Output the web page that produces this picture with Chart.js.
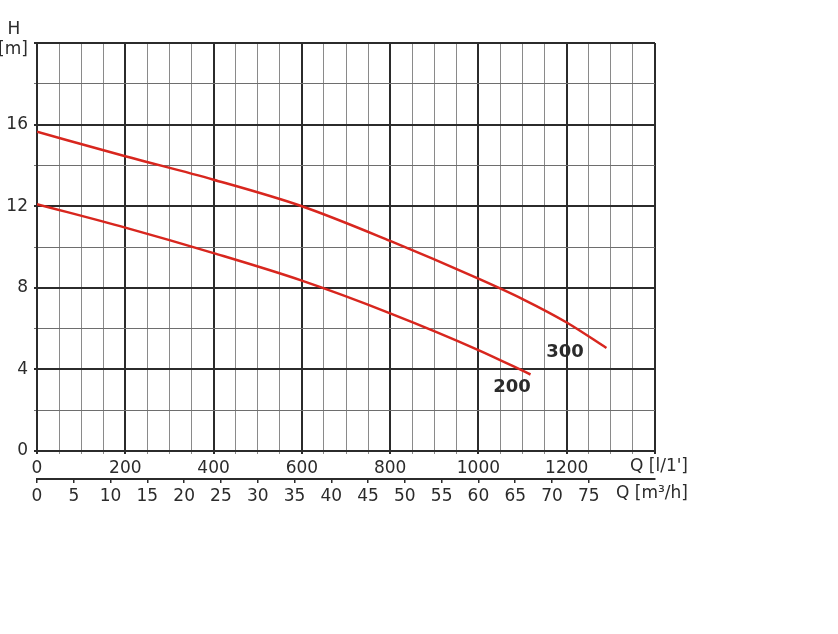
<!DOCTYPE html>
<html>
<head>
<meta charset="utf-8">
<script src="https://cdn.jsdelivr.net/npm/chart.js@4/dist/chart.umd.min.js"></script>
<style>
  body { margin: 0; background: #fff; }
  canvas { display: block; }
</style>
</head>
<body>
<canvas id="pumpChart" width="838" height="634"></canvas>
<script>
// pump curve data (Q in l/min, H in m)
const q300 = [0, 200, 400, 600, 800, 1000, 1100, 1200, 1290];
const h300 = [15.65, 14.45, 13.3, 12.0, 10.3, 8.45, 7.45, 6.3, 5.05];
const q200 = [0, 200, 400, 600, 800, 1000, 1118];
const h200 = [12.1, 10.95, 9.7, 8.35, 6.75, 4.95, 3.75];

const headTicks = [0, 4, 8, 12, 16];
const flowLpmTicks = [0, 200, 400, 600, 800, 1000, 1200];
const flowM3hTicks = [0, 5, 10, 15, 20, 25, 30, 35, 40, 45, 50, 55, 60, 65, 70, 75];

const curveLabels = [
    { text: '300', q: 1196, h: 4.85 },
    { text: '200', q: 1076, h: 3.1 }
];

const FONT = "'DejaVu Sans', sans-serif";
const DARK = '#2b2b2b';
const RED = '#d8261e';

function toPoints(xs, ys) {
    return xs.map((x, i) => ({ x: x, y: ys[i] }));
}

// extra texts: axis names and curve labels
const textPlugin = {
    id: 'textPlugin',
    afterDraw(chart) {
        const ctx = chart.ctx;
        const xs = chart.scales.x;
        const ys = chart.scales.y;
        ctx.save();
        ctx.fillStyle = DARK;
        ctx.font = '17px ' + FONT;
        ctx.textAlign = 'center';
        ctx.textBaseline = 'middle';
        ctx.fillText('H', 14, 30);
        ctx.fillText('[m]', 13, 50);

        ctx.textAlign = 'right';
        ctx.fillText("Q [l/1']", 688, 467);
        ctx.fillText('Q [m\u00b3/h]', 688, 494);

        ctx.font = 'bold 18px ' + FONT;
        ctx.textAlign = 'center';
        curveLabels.forEach(l => {
            ctx.fillText(l.text, xs.getPixelForValue(l.q), ys.getPixelForValue(l.h));
        });
        ctx.restore();
    }
};

new Chart(document.getElementById('pumpChart'), {
    type: 'scatter',
    data: {
        datasets: [
            {
                label: '300',
                data: toPoints(q300, h300),
                showLine: true,
                borderColor: RED,
                borderWidth: 2.5,
                pointRadius: 0,
                cubicInterpolationMode: 'monotone'
            },
            {
                label: '200',
                data: toPoints(q200, h200),
                showLine: true,
                borderColor: RED,
                borderWidth: 2.5,
                pointRadius: 0,
                cubicInterpolationMode: 'monotone'
            }
        ]
    },
    options: {
        responsive: false,
        animation: false,
        layout: { padding: { top: 43, right: 183, left: 0, bottom: 125 } },
        plugins: {
            legend: { display: false },
            tooltip: { enabled: false }
        },
        scales: {
            x: {
                type: 'linear',
                position: 'bottom',
                min: 0,
                max: 1400,
                afterFit(scale) { scale.height = 28; },
                ticks: {
                    stepSize: 50,
                    autoSkip: false,
                    maxRotation: 0,
                    padding: 4,
                    color: DARK,
                    font: { family: FONT, size: 17 },
                    callback: v => flowLpmTicks.includes(v) ? String(v) : ''
                },
                grid: {
                    tickLength: 3,
                    color: c => (c.tick && c.tick.value % 200 === 0) ? DARK : '#8a8a8a',
                    lineWidth: c => (c.tick && c.tick.value % 200 === 0) ? 2 : 1
                },
                border: { display: true, color: DARK, width: 2 }
            },
            x2: {
                type: 'linear',
                position: 'bottom',
                min: 0,
                max: 84,
                afterFit(scale) { scale.height = 30; },
                afterBuildTicks(scale) {
                    scale.ticks = flowM3hTicks.map(v => ({ value: v }));
                },
                ticks: {
                    autoSkip: false,
                    maxRotation: 0,
                    padding: 3,
                    color: DARK,
                    font: { family: FONT, size: 17 },
                    callback: v => String(v)
                },
                grid: {
                    drawOnChartArea: false,
                    tickLength: 4,
                    color: DARK,
                    lineWidth: 1.5
                },
                border: { display: true, color: DARK, width: 2 }
            },
            y: {
                type: 'linear',
                min: 0,
                max: 20,
                afterFit(scale) { scale.width = 37; },
                ticks: {
                    stepSize: 2,
                    autoSkip: false,
                    padding: 6,
                    color: DARK,
                    font: { family: FONT, size: 17 },
                    callback: v => headTicks.includes(v) ? String(v) : ''
                },
                grid: {
                    tickLength: 3,
                    color: c => (c.tick && c.tick.value % 4 === 0) ? DARK : '#6e6e6e',
                    lineWidth: c => (c.tick && c.tick.value % 4 === 0) ? 2 : 1
                },
                border: { display: true, color: DARK, width: 2 }
            }
        }
    },
    plugins: [textPlugin]
});
</script>
</body>
</html>
